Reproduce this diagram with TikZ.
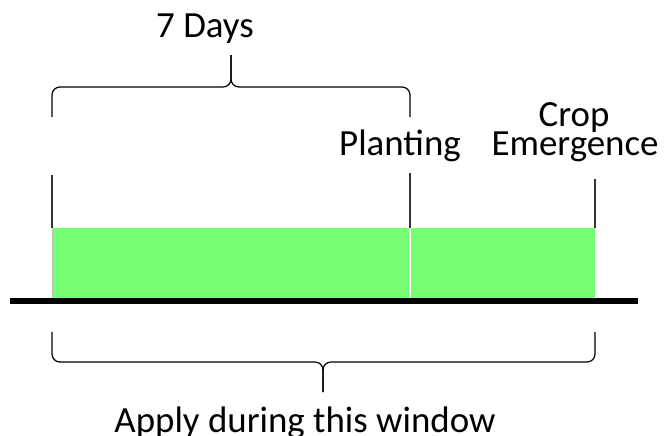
\documentclass[tikz,border=0pt]{standalone}
\usepackage{fontspec}
\setmainfont{Carlito}
\definecolor{sprout}{RGB}{119,255,115}
\begin{document}
\begin{tikzpicture}[x=0.2mm, y=-0.2mm, every node/.style={font=\fontsize{21}{25}\selectfont, inner sep=0pt, anchor=base}]
\tikzset{
  tick/.style={draw=black!80, line width=0.8pt},
  brc/.style={draw, line width=0.7pt, rounded corners=4.5pt},
  band/.style={fill=sprout, draw=none}
}
\useasboundingbox (0,0) rectangle (665,435);
\coordinate (start) at (52,228);
\coordinate (plant) at (410,228);
\coordinate (emerg) at (595,228);
\coordinate (topl) at (52,117);
\coordinate (topr) at (410,117);
\coordinate (topk) at (231,55);
\coordinate (botl) at (52,332);
\coordinate (botr) at (595,332);
\coordinate (botk) at (323,392);

\fill[band] (53,228) rectangle (409,298);
\fill[band] (411,228) rectangle (595,298);
\draw[line width=3.4pt] (10,301) -- (638,301);

\draw[tick] (52,175) -- (start);
\draw[black!25, line width=0.5pt] (start) -- (52,298);
\draw[tick] (410,173) -- (plant);
\draw[tick] (595,179) -- (emerg);

% braces
\draw[brc] (topl) |- (231,87) -- (topk);
\draw[brc] (topr) |- (231,87) -- (topk);
\draw[brc] (botl) |- (323,362) -- (botk);
\draw[brc] (botr) |- (323,362) -- (botk);

\node (days) at (205,37) {7 Days};
\node (planting) at (400,155) {Planting};
\node (crop) at (574,126) {Crop};
\node (emergence) at (575,155) {Emergence};
\node (window) at (305,432) {Apply during this window};
\end{tikzpicture}
\end{document}
